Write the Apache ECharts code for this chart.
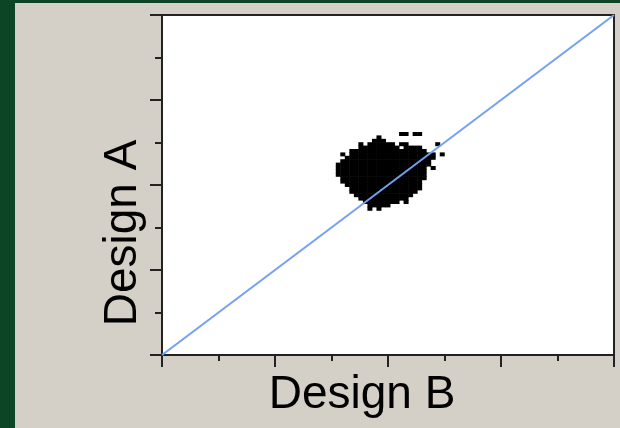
<!DOCTYPE html>
<html>
<head>
<meta charset="utf-8">
<script src="https://cdn.jsdelivr.net/npm/echarts@6/dist/echarts.min.js"></script>
<style>
html,body{margin:0;padding:0;background:#0b4525;}
#c{width:620px;height:428px;}
</style>
</head>
<body>
<div id="c"></div>
<script>
// Axis ranges / ticks (no tick labels shown in the reference)
const xRange = [0, 100];
const yRange = [0, 100];
const tickInterval = 25;

// Reference diagonal (Design A = Design B)
const diagonal = [[0, 0], [100, 100]];

// Scatter cloud, read row by row: [Design A value, [Design B values]]
const cloudRows = [
  [65, [53, 54, 56, 57]],
  [64, [48]],
  [63, [47, 48, 49]],
  [62, [44, 46, 47, 48, 49, 50, 51, 53, 54, 61]],
  [61, [44, 45, 46, 47, 48, 49, 50, 51, 52, 54, 55, 56, 57]],
  [60, [42, 43, 44, 45, 46, 47, 48, 49, 50, 51, 52, 53, 54, 55, 56, 57, 58]],
  [59, [40, 42, 43, 44, 45, 46, 47, 48, 49, 50, 51, 52, 53, 54, 55, 56, 57, 58, 59, 60, 62]],
  [58, [41, 42, 43, 44, 45, 46, 47, 48, 49, 50, 51, 52, 53, 54, 55, 56, 57, 58, 59, 60]],
  [57, [40, 41, 42, 43, 44, 45, 46, 47, 48, 49, 50, 51, 52, 53, 54, 55, 56, 57, 58, 59]],
  [56, [39, 40, 41, 42, 43, 44, 45, 46, 47, 48, 49, 50, 51, 52, 53, 54, 55, 56, 57, 58, 59]],
  [55, [39, 40, 41, 42, 43, 44, 45, 46, 47, 48, 49, 50, 51, 52, 53, 54, 55, 56, 57, 58, 60]],
  [54, [39, 40, 41, 42, 43, 44, 45, 46, 47, 48, 49, 50, 51, 52, 53, 54, 55, 56, 57, 58]],
  [53, [39, 40, 41, 42, 43, 44, 45, 46, 47, 48, 49, 50, 51, 52, 53, 54, 55, 56, 57, 58]],
  [52, [40, 41, 42, 43, 44, 45, 46, 47, 48, 49, 50, 51, 52, 53, 54, 55, 56, 57, 58]],
  [51, [40, 41, 42, 43, 44, 45, 46, 47, 48, 49, 50, 51, 52, 53, 54, 55, 56, 57]],
  [50, [41, 42, 43, 44, 45, 46, 47, 48, 49, 50, 51, 52, 53, 54, 55, 56, 57]],
  [49, [42, 43, 44, 45, 46, 47, 48, 49, 50, 51, 52, 53, 54, 55, 56, 57]],
  [48, [42, 43, 44, 45, 46, 47, 48, 49, 50, 51, 52, 53, 54, 55, 56]],
  [47, [43, 44, 45, 46, 47, 48, 49, 50, 51, 52, 53, 54, 55]],
  [46, [44, 45, 46, 47, 48, 49, 50, 51, 52, 53, 54]],
  [45, [45, 46, 47, 48, 49, 50, 51, 52, 54]],
  [44, [46, 47, 48, 49, 50]],
  [43, [46, 48]]
];

const cloud = [];
cloudRows.forEach(function (r) {
  r[1].forEach(function (x) { cloud.push([x, r[0]]); });
});

const axisColor = '#222222';
const chart = echarts.init(document.getElementById('c'), null, {renderer: 'canvas'});
chart.setOption({
  backgroundColor: '#0b4525',
  animation: false,
  graphic: [
    {type: 'rect', z: -10, silent: true, shape: {x: 15, y: 3, width: 605, height: 425}, style: {fill: '#d4d0c8'}},
    {type: 'text', z: 10, style: {text: 'Design B', x: 362, y: 395, font: '46px "Liberation Sans", Arial, sans-serif', fill: '#000', textAlign: 'center', textVerticalAlign: 'middle'}},
    {type: 'text', z: 10, x: 123, y: 233, rotation: Math.PI / 2, style: {text: 'Design A', x: 0, y: 0, font: '46px "Liberation Sans", Arial, sans-serif', fill: '#000', textAlign: 'center', textVerticalAlign: 'middle'}}
  ],
  grid: {left: 162, top: 15, right: 6, bottom: 73, show: true, backgroundColor: '#ffffff', borderColor: axisColor, borderWidth: 2},
  xAxis: {
    type: 'value', min: xRange[0], max: xRange[1], interval: tickInterval,
    axisLine: {show: true, lineStyle: {color: axisColor, width: 2}},
    axisTick: {show: true, length: 12, lineStyle: {color: axisColor, width: 2}},
    minorTick: {show: true, splitNumber: 2, length: 6, lineStyle: {color: axisColor, width: 2}},
    axisLabel: {show: false}, splitLine: {show: false}
  },
  yAxis: {
    type: 'value', min: yRange[0], max: yRange[1], interval: tickInterval,
    axisLine: {show: true, lineStyle: {color: axisColor, width: 2}},
    axisTick: {show: true, length: 12, lineStyle: {color: axisColor, width: 2}},
    minorTick: {show: true, splitNumber: 2, length: 7, lineStyle: {color: axisColor, width: 2}},
    axisLabel: {show: false}, splitLine: {show: false}
  },
  series: [
    {type: 'scatter', data: cloud, symbol: 'rect', symbolSize: [5, 4], itemStyle: {color: '#000', opacity: 1}, z: 2},
    {type: 'line', data: diagonal, showSymbol: false, symbol: 'none', lineStyle: {color: '#74a0f2', width: 2}, z: 3}
  ]
});
</script>
</body>
</html>
